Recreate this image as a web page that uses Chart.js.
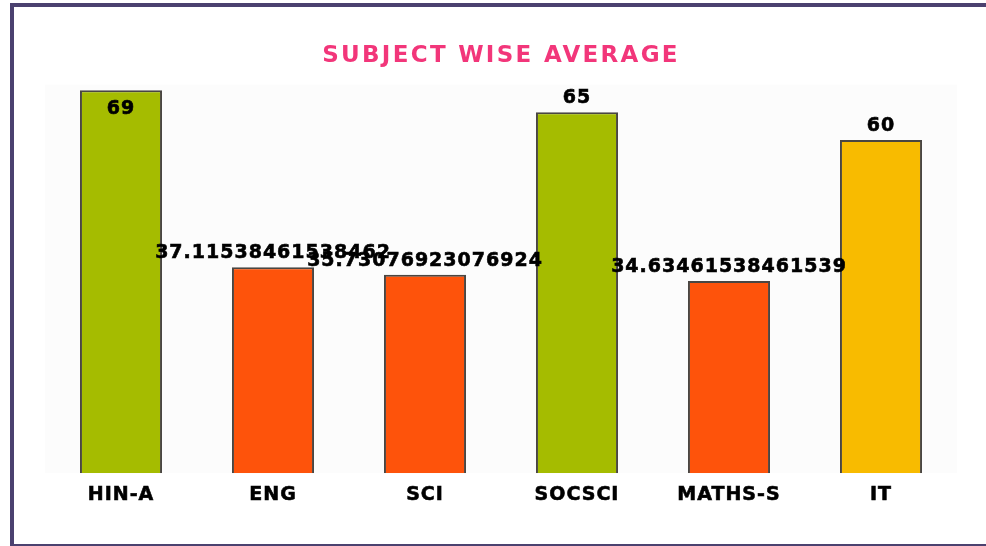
<!DOCTYPE html>
<html>
<head>
<meta charset="utf-8">
<script src="https://cdn.jsdelivr.net/npm/chart.js@4"></script>
<style>
  body { margin: 0; background: #fff; overflow: hidden; }
  #frame { position: absolute; left: 10px; top: 3px; width: 1000px; height: 545px; box-sizing: border-box; border: 4px solid #4b416f; }
  #wrap { position: absolute; left: 0; top: 0; width: 986px; height: 546px; }
</style>
</head>
<body>
<div id="frame"></div>
<div id="wrap"><canvas id="myChart"></canvas></div>
<script>
const subjects = ['HIN-A', 'ENG', 'SCI', 'SOCSCI', 'MATHS-S', 'IT'];
const averages = [69, 37.11538461538462, 35.73076923076924, 65, 34.63461538461539, 60];
const barColors = ['#a5bc00', '#fe530b', '#fe530b', '#a5bc00', '#fe530b', '#f8bb00'];

// light panel behind the bars + letter spacing like the original
const panelPlugin = {
  id: 'panel',
  beforeDraw(chart) {
    const { ctx, chartArea } = chart;
    ctx.save();
    ctx.fillStyle = '#fcfcfc';
    ctx.fillRect(chartArea.left, chartArea.top, chartArea.right - chartArea.left, chartArea.bottom - chartArea.top);
    ctx.restore();
    ctx.letterSpacing = '1px';
  },
  afterLayout(chart) {
    const t = chart.titleBlock;
    if (t && !t._wrapped) {
      const orig = t.draw.bind(t);
      t.draw = function () {
        chart.ctx.save();
        chart.ctx.letterSpacing = '2.3px';
        orig();
        chart.ctx.restore();
      };
      t._wrapped = true;
    }
  }
};

// value labels on top of each bar
const valueLabels = {
  id: 'valueLabels',
  afterDatasetsDraw(chart) {
    const ctx = chart.ctx;
    const meta = chart.getDatasetMeta(0);
    ctx.save();
    ctx.font = 'bold 19px "DejaVu Sans", Verdana, sans-serif';
    ctx.letterSpacing = '1px';
    ctx.fillStyle = '#000';
    ctx.strokeStyle = '#000';
    ctx.lineWidth = 0.6;
    ctx.textAlign = 'center';
    ctx.textBaseline = 'alphabetic';
    meta.data.forEach((bar, i) => {
      let y = bar.y - 9;
      if (y - 15 < chart.chartArea.top) y = bar.y + 24;
      ctx.fillText(String(averages[i]), bar.x, y);
      ctx.strokeText(String(averages[i]), bar.x, y);
    });
    ctx.restore();
  }
};

const ctx = document.getElementById('myChart');
new Chart(ctx, {
  type: 'bar',
  data: {
    labels: subjects,
    datasets: [{
      label: 'Average',
      data: averages,
      backgroundColor: barColors,
      borderColor: '#4a4642',
      borderWidth: 2,
      categoryPercentage: 1,
      barPercentage: 0.54
    }]
  },
  options: {
    responsive: true,
    maintainAspectRatio: false,
    animation: false,
    layout: { padding: { left: 45, right: 29, top: 30, bottom: 30 } },
    plugins: {
      legend: { display: false },
      tooltip: { enabled: false },
      title: {
        display: true,
        text: 'SUBJECT WISE AVERAGE',
        color: '#f2367a',
        font: { family: '"DejaVu Sans", Verdana, sans-serif', size: 23, weight: 'bold' },
        padding: { top: 12, bottom: 15 }
      }
    },
    scales: {
      x: {
        grid: { display: false, drawTicks: false },
        border: { display: false },
        ticks: {
          color: '#000',
          padding: 10,
          textStrokeColor: '#000',
          textStrokeWidth: 0.6,
          font: { family: '"DejaVu Sans", Verdana, sans-serif', size: 19, weight: 'bold' }
        }
      },
      y: {
        display: false,
        min: 0,
        max: 70
      }
    }
  },
  plugins: [panelPlugin, valueLabels]
});
</script>
</body>
</html>
